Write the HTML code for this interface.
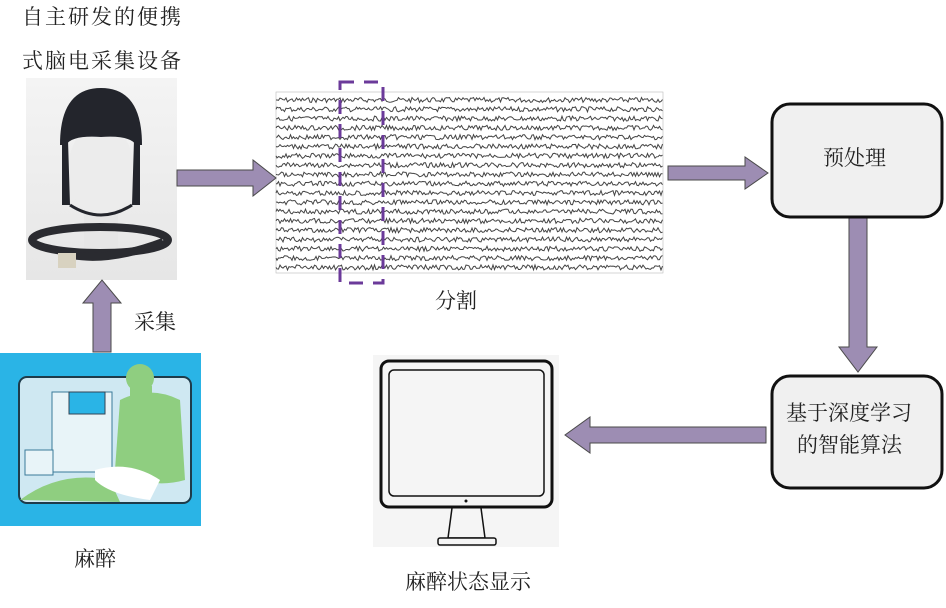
<!DOCTYPE html>
<html><head><meta charset="utf-8"><style>
body{margin:0;background:#fff;width:946px;height:608px;overflow:hidden;position:relative;font-family:"Liberation Serif","Noto Serif CJK SC","Noto Sans CJK SC",serif;color:#222}
.t{position:absolute;font-size:21px;white-space:nowrap;line-height:1}
</style></head><body>
<svg width="946" height="608" style="position:absolute;left:0;top:0">
<defs>
<linearGradient id="g" x1="0" y1="0" x2="0" y2="1"><stop offset="0" stop-color="#f4f4f4"/><stop offset="1" stop-color="#e6e6e6"/></linearGradient>
</defs>
<!-- head image -->
<rect x="26" y="78" width="151" height="202" fill="url(#g)"/>
<rect x="84" y="205" width="34" height="45" fill="#e6e6e6"/>
<ellipse cx="101" cy="170" rx="33" ry="46" fill="#ececec"/>
<path d="M60 145 Q60 88 101 88 Q142 88 142 145 L136 145 Q130 135 101 137 Q72 135 66 145 Z" fill="#23252c"/>
<path d="M62 140 L68 140 L70 205 L62 205 Z M134 140 L140 140 L140 205 L132 205 Z" fill="#23252c"/>
<path d="M70 205 Q101 225 132 205" fill="none" stroke="#23252c" stroke-width="3"/>
<ellipse cx="100" cy="240" rx="68" ry="13" fill="none" stroke="#2a2b30" stroke-width="8"/>
<path d="M72 255 Q110 262 163 242" fill="none" stroke="#2a2b30" stroke-width="8"/>
<rect x="58" y="253" width="18" height="15" fill="#d8d2c0"/>
<!-- anesthesia image -->
<rect x="0" y="353" width="201" height="173" fill="#2ab4e6"/>
<rect x="19" y="377" width="172" height="126" rx="8" fill="#cfe8f2" stroke="#1e3b4a" stroke-width="2"/>
<rect x="52" y="392" width="60" height="80" fill="#e8f4f8" stroke="#3a7a99"/>
<rect x="69" y="392" width="36" height="22" fill="#2ab4e6" stroke="#345"/>
<rect x="25" y="450" width="28" height="25" fill="#e8f4f8" stroke="#3a7a99"/>
<path d="M20 500 Q60 470 110 480 L120 502 Z" fill="#8fce80"/>
<path d="M120 400 Q150 385 180 400 L185 480 Q150 490 115 470 Z" fill="#8fce80"/>
<circle cx="140" cy="378" r="14" fill="#8fce80"/>
<rect x="130" y="386" width="22" height="12" fill="#8fce80"/>
<path d="M95 470 Q130 460 160 480 L150 500 Q110 495 95 480Z" fill="#fff"/>
<!-- EEG -->
<rect x="276" y="92" width="387" height="181" fill="#fff" stroke="#bbb" stroke-width="0.6"/>
<g id="eeg" fill="none" stroke="#444" stroke-width="1"></g>
<rect x="340" y="82" width="43" height="201" fill="none" stroke="#6b3a9a" stroke-width="3" stroke-dasharray="14,10"/>
<!-- arrows -->
<g fill="#9d8db3" stroke="#4a4a4a" stroke-width="1">
<polygon points="177,170 253,170 253,160 276,178 253,196 253,186 177,186"/>
<polygon points="93,352 93,303 83,303 102,280 121,303 111,303 111,352"/>
<polygon points="668,166 745,166 745,157 768,173 745,189 745,180 668,180"/>
<polygon points="849,218 849,347 839,347 858,372 877,347 867,347 867,218"/>
<polygon points="766,427 590,427 590,417 565,435 590,453 590,443 766,443"/>
</g>
<!-- boxes -->
<rect x="772" y="104" width="170" height="113" rx="18" fill="#f0f0f0" stroke="#111" stroke-width="3"/>
<rect x="772" y="376" width="170" height="112" rx="18" fill="#f0f0f0" stroke="#111" stroke-width="3"/>
<!-- monitor -->
<rect x="373" y="355" width="186" height="192" fill="#f5f5f5"/>
<rect x="381" y="361" width="171" height="146" rx="8" fill="#f5f5f5" stroke="#111" stroke-width="3"/>
<rect x="389" y="370" width="155" height="126" rx="5" fill="#f5f5f5" stroke="#111" stroke-width="1.5"/>
<circle cx="466" cy="501" r="1.5" fill="#111"/>
<path d="M452 508 L448 538 L485 538 L481 508" fill="none" stroke="#111" stroke-width="1.5"/>
<rect x="438" y="538" width="58" height="7" rx="2" fill="#f5f5f5" stroke="#111" stroke-width="1.5"/>
</svg>
<div class="t" style="left:22px;top:7px;letter-spacing:2px">自主研发的便携</div>
<div class="t" style="left:22px;top:51px;letter-spacing:2px">式脑电采集设备</div>
<div class="t" style="left:134px;top:312px">采集</div>
<div class="t" style="left:435px;top:291px">分割</div>
<div class="t" style="left:74px;top:549px">麻醉</div>
<div class="t" style="left:405px;top:572px">麻醉状态显示</div>
<div class="t" style="left:823px;top:148px">预处理</div>
<div class="t" style="left:786px;top:403px">基于深度学习</div>
<div class="t" style="left:797px;top:435px">的智能算法</div>
<script>
var g=document.getElementById('eeg'),s=7,out='';
function r(){s=(s*9301+49297)%233280;return s/233280;}
for(var i=0;i<19;i++){var y0=100+i*9.3,d='M276 '+y0.toFixed(1);
for(var x=277;x<663;x+=1.5){d+=' L'+x.toFixed(1)+' '+(y0+(r()-0.5)*5).toFixed(1);}
out+='<path d="'+d+'"/>';}
g.innerHTML=out;
</script>
</body></html>
